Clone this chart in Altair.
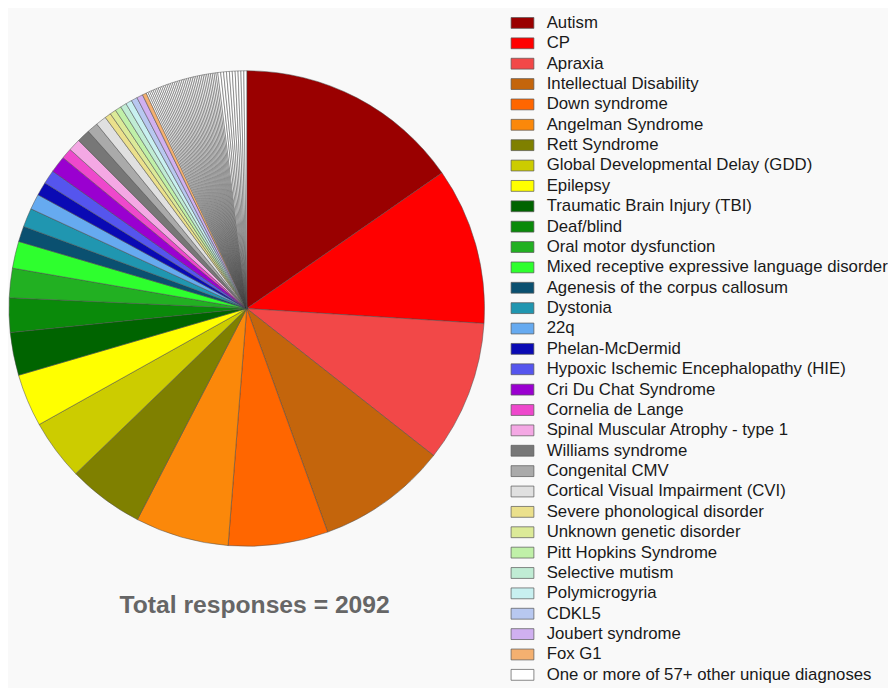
import altair as alt
import pandas as pd

categories = [
    "Autism", "CP", "Apraxia", "Intellectual Disability", "Down syndrome",
    "Angelman Syndrome", "Rett Syndrome", "Global Developmental Delay (GDD)",
    "Epilepsy", "Traumatic Brain Injury (TBI)", "Deaf/blind",
    "Oral motor dysfunction", "Mixed receptive expressive language disorder",
    "Agenesis of the corpus callosum", "Dystonia", "22q", "Phelan-McDermid",
    "Hypoxic Ischemic Encephalopathy (HIE)", "Cri Du Chat Syndrome",
    "Cornelia de Lange", "Spinal Muscular Atrophy - type 1", "Williams syndrome",
    "Congenital CMV", "Cortical Visual Impairment (CVI)",
    "Severe phonological disorder", "Unknown genetic disorder",
    "Pitt Hopkins Syndrome", "Selective mutism", "Polymicrogyria", "CDKL5",
    "Joubert syndrome", "Fox G1",
]
# slice sizes (in degrees of the pie)
values = [
    55.2, 38.4, 34.6, 31.9, 24.4, 22.9, 18.6, 14.8, 12.9, 10.5, 8.4, 7.2, 6.6,
    3.8, 4.6, 3.8, 3.3, 3.4, 4.1, 2.6, 3.0, 3.2, 2.7, 2.6,
    1.5, 1.5, 1.5, 1.5, 1.5, 1.5, 1.5, 1.0,
]
colors = [
    "#9a0000", "#ff0000", "#f24848", "#c4650c", "#ff6600", "#fb880a",
    "#7f8000", "#cccc00", "#ffff00", "#006400", "#0a8a0a", "#22b022",
    "#2eff2e", "#0a5070", "#2096b0", "#66aaf0", "#0a0ab4", "#5555ee",
    "#9a00d0", "#ee48cc", "#f4a8e4", "#777777", "#aaaaaa", "#e0e0e0",
    "#ebe08c", "#dcea98", "#c0f0a8", "#c0ecd4", "#c8f0f0", "#b8c8f0",
    "#d0b0f0", "#f4b070",
]
other_label = "One or more of 57+ other unique diagnoses"
other_color = "#ffffff"
# the many thin white slices of the "other" diagnoses
other_values = [
    0.45, 0.45, 0.45, 0.45, 0.45, 0.45, 0.45, 0.45, 0.45, 0.45,
    0.45, 0.45, 0.45, 0.45, 0.45, 0.45, 0.45, 0.45, 0.45, 0.45,
    0.45, 0.45, 0.45, 0.45, 0.45, 0.45, 0.45, 0.45, 0.45, 0.45,
    0.45, 0.45, 0.45, 0.45, 0.45, 0.45, 0.45, 0.45, 0.45, 0.45,
    0.7, 0.7, 0.7, 0.7, 0.7, 0.7, 0.7, 0.7, 0.7, 0.7,
]

rows = []
for i, (c, v) in enumerate(zip(categories, values)):
    rows.append({"group": c, "item": c, "value": v, "idx": i})
for j, v in enumerate(other_values):
    rows.append({"group": other_label, "item": f"other {j + 1}", "value": v,
                 "idx": len(categories) + j})
df = pd.DataFrame(rows)

domain = categories + [other_label]
rng = colors + [other_color]

FONT = "Liberation Sans"

pie = alt.Chart(df).mark_arc(
    radius=241, stroke="#4a4a4a", strokeWidth=0.5
).encode(
    theta=alt.Theta("value:Q", stack=True),
    color=alt.Color(
        "group:N",
        scale=alt.Scale(domain=domain, range=rng),
        legend=alt.Legend(
            title=None,
            orient="none",
            legendX=509,
            legendY=2,
            symbolType="M-2.1,-1L2.1,-1L2.1,1L-2.1,1Z",
            symbolSize=121,
            symbolStrokeColor="#555555",
            symbolStrokeWidth=0.7,
            symbolLimit=50,
            labelFont=FONT,
            labelFontSize=17,
            labelColor="#1a1a1a",
            labelOffset=16,
            rowPadding=2.65,
            labelLimit=400,
        ),
    ),
    detail="item:N",
    order=alt.Order("idx:Q"),
)

total = alt.Chart(pd.DataFrame({"t": ["Total responses = 2092"]})).mark_text(
    font=FONT, fontSize=25, fontWeight="bold", color="#666666",
    baseline="alphabetic", align="center"
).encode(
    text="t:N",
    x=alt.value(246),
    y=alt.value(609),
)

chart = alt.layer(pie, total).properties(
    width=476, height=600, padding=0, background="#f9f9f9"
).configure_view(stroke=None)

chart.save("out.html", embed_options={"renderer": "svg", "actions": False})
